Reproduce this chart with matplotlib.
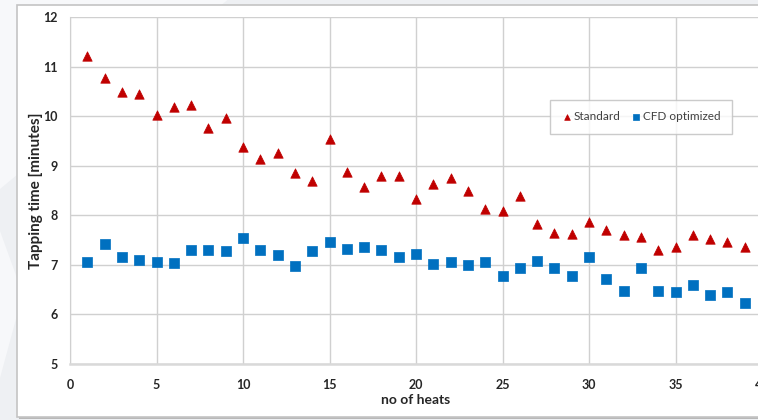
import matplotlib
matplotlib.use("Agg")
import matplotlib.pyplot as plt
from matplotlib.patches import Rectangle, Polygon

heats = list(range(1, 40))
standard = [11.21, 10.77, 10.49, 10.45, 10.02, 10.19, 10.23, 9.76, 9.96, 9.38,
            9.14, 9.26, 8.86, 8.69, 9.54, 8.88, 8.58, 8.79, 8.80, 8.33,
            8.63, 8.76, 8.49, 8.13, 8.09, 8.39, 7.83, 7.65, 7.63, 7.86,
            7.71, 7.61, 7.57, 7.29, 7.36, 7.60, 7.53, 7.47, 7.37]
cfd = [7.05, 7.42, 7.16, 7.09, 7.06, 7.03, 7.30, 7.29, 7.28, 7.54,
       7.29, 7.20, 6.98, 7.28, 7.46, 7.32, 7.37, 7.30, 7.15, 7.22,
       7.01, 7.05, 6.99, 7.06, 6.77, 6.93, 7.08, 6.94, 6.78, 7.15,
       6.71, 6.47, 6.93, 6.47, 6.46, 6.60, 6.40, 6.45, 6.24]
xticks = [0, 5, 10, 15, 20, 25, 30, 35, 40]
yticks = [5, 6, 7, 8, 9, 10, 11, 12]

plt.rcParams['font.family'] = ['Lato', 'DejaVu Sans']

W, H = 758, 420
fig = plt.figure(figsize=(W / 100, H / 100), dpi=100)
fig.patch.set_facecolor('#eef0f3')

# subtle background shapes
fig.patches.append(Polygon([(0, 1), (0.30, 1), (0, 0.55)], closed=True,
                           transform=fig.transFigure, facecolor='#f7f8fa',
                           edgecolor='none', zorder=0))
fig.patches.append(Polygon([(0, 0.45), (0.03, 0.3), (0, 0.1)], closed=True,
                           transform=fig.transFigure, facecolor='#f7f8fa',
                           edgecolor='none', zorder=0))

# chart frame with shadow
fig.patches.append(Rectangle((19 / W, 1 / H), 1.1, (412) / H,
                             transform=fig.transFigure, facecolor='#b8b8b8',
                             edgecolor='none', zorder=1))
fig.patches.append(Rectangle((17 / W, 3 / H), 1.1, (412) / H,
                             transform=fig.transFigure, facecolor='white',
                             edgecolor='#c4c4c4', linewidth=1.2, zorder=2))

ax = fig.add_axes([70 / W, (H - 364) / H, (762 - 70) / W, (364 - 17) / H])
ax.set_facecolor('none')
ax.set_zorder(3)

ax.scatter(heats, standard, marker='^', s=46, color='#c00000',
           edgecolors='#c00000', linewidths=0.5, label='Standard', zorder=4,
           clip_on=False)
ax.scatter(heats, cfd, marker='s', s=46, color='#0070c0',
           edgecolors='#0070c0', linewidths=0.5, label='CFD optimized', zorder=4,
           clip_on=False)

ax.set_xlim(0, 40)
ax.set_ylim(5, 12)
ax.set_xticks(xticks)
ax.set_yticks(yticks)
ax.grid(True, color='#d0d0d0', linewidth=1.0)
ax.set_axisbelow(True)
for s in ['top', 'right']:
    ax.spines[s].set_visible(False)
ax.spines['left'].set_color('#d0d0d0')
ax.spines['bottom'].set_color('#d9d9d9')
ax.spines['bottom'].set_linewidth(1.8)
ax.tick_params(length=0, labelsize=9, colors='#262626')
ax.tick_params(axis='x', pad=11)
ax.tick_params(axis='y', pad=9)
for lab in ax.get_xticklabels() + ax.get_yticklabels():
    lab.set_fontweight('bold')

ax.set_xlabel('no of heats', fontsize=10, fontweight='bold', color='#262626')
ax.set_ylabel('Tapping time [minutes]', fontsize=11, fontweight='bold',
              color='#262626')
ax.xaxis.set_label_coords(0.5, (364 - 394) / 347)
ax.xaxis.label.set_va('top')
ax.yaxis.set_label_coords((43 - 70) / 692, 0.5)

leg = ax.legend(loc='center', bbox_to_anchor=(641 / W, (H - 117) / H),
                bbox_transform=fig.transFigure, ncol=2, frameon=True,
                fancybox=False, edgecolor='#bfbfbf', fontsize=8.5,
                handletextpad=0.1, columnspacing=0.8, borderpad=0.95,
                markerscale=0.6, handlelength=1.0, borderaxespad=0)
leg.get_frame().set_linewidth(1.0)
for t in leg.get_texts():
    t.set_color('#404040')

fig.savefig('out.png', dpi=100, facecolor=fig.get_facecolor())
